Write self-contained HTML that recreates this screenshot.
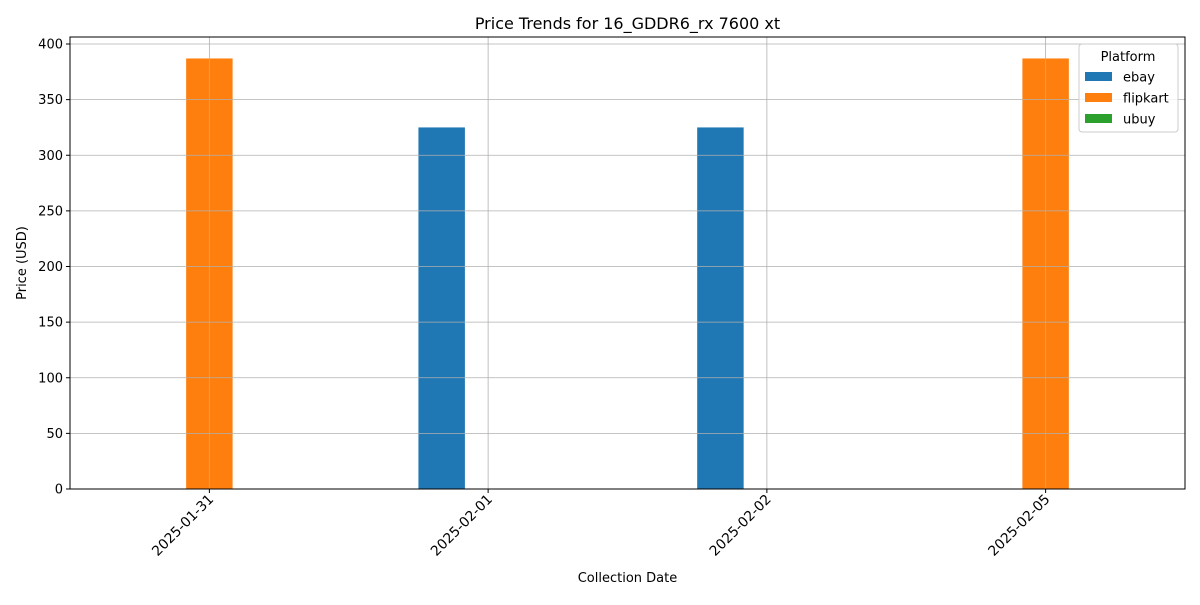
<!DOCTYPE html>
<html><head><meta charset="utf-8"><style>
body{margin:0;background:#fff;font-family:"Liberation Sans","DejaVu Sans",sans-serif;}
svg text{font-family:"DejaVu Sans","Liberation Sans",sans-serif;}
</style></head><body>
<svg id="chart" width="1200" height="600" xmlns="http://www.w3.org/2000/svg"></svg>
<script>
const categories=["2025-01-31","2025-02-01","2025-02-02","2025-02-05"];
const seriesNames=["ebay","flipkart","ubuy"];
const ebayValues=[0,325,325,0];
const flipkartValues=[387,0,0,387];
const ubuyValues=[0,0,0,0];
const yTicks=[0,50,100,150,200,250,300,350,400];
const colors=["#1f77b4","#ff7f0e","#2ca02c"];
const L=70,R=1185,T=37,B=489;
const NS="http://www.w3.org/2000/svg";
const svg=document.getElementById('chart');
function xs(i){return L+(i+0.5)*(R-L)/categories.length;}
function ys(v){return B-v*(B-44)/400;}
function mk(tag,attrs,parent){const e=document.createElementNS(NS,tag);for(const k in attrs)e.setAttribute(k,attrs[k]);(parent||svg).appendChild(e);return e;}
// bars
const all=[ebayValues,flipkartValues,ubuyValues];
const bw=(R-L)/categories.length*0.5/3;
all.forEach((vals,s)=>{vals.forEach((v,i)=>{const x=xs(i)+(s-1)*bw-bw/2;
const r=mk('rect',{x:x,y:ys(v),width:bw,height:B-ys(v),fill:colors[s]});

});});
// grid (on top of bars)
yTicks.forEach(v=>{const l=mk('line',{x1:L,x2:R,y1:ys(v),y2:ys(v),stroke:'#b0b0b0','stroke-width':0.8});

});
categories.forEach((c,i)=>{const l=mk('line',{x1:xs(i),x2:xs(i),y1:T,y2:B,stroke:'#b0b0b0','stroke-width':0.8});

});
// axes box
const box=mk('rect',{x:L,y:T,width:R-L,height:B-T,fill:'none',stroke:'#000','stroke-width':1});


yTicks.forEach(v=>{mk('line',{x1:L-4,x2:L,y1:ys(v),y2:ys(v),stroke:'#000'});
const t=mk('text',{x:L-7,y:ys(v)+4.5,'text-anchor':'end','font-size':13});t.textContent=v;

});
categories.forEach((c,i)=>{mk('line',{x1:xs(i),x2:xs(i),y1:B,y2:B+4,stroke:'#000'});
const tx=xs(i)+5,ty=B+11;
const t=mk('text',{x:tx,y:ty,'text-anchor':'end','font-size':13.8,transform:`rotate(-45 ${tx} ${ty})`});t.textContent=c;

});
const ti=mk('text',{x:(L+R)/2,y:29,'text-anchor':'middle','font-size':16});ti.textContent='Price Trends for 16_GDDR6_rx 7600 xt';


const xl=mk('text',{x:(L+R)/2,y:582,'text-anchor':'middle','font-size':13});xl.textContent='Collection Date';


const yl=mk('text',{x:26,y:263,'text-anchor':'middle','font-size':13,transform:'rotate(-90 26 263)'});yl.textContent='Price (USD)';


// legend
const lg=mk('g',{});


mk('rect',{x:1079,y:44,width:99,height:88,rx:3,fill:'#fff','fill-opacity':0.8,stroke:'#ccc'},lg);
const lt=mk('text',{x:1128,y:61,'text-anchor':'middle','font-size':13},lg);lt.textContent='Platform';
seriesNames.forEach((n,s)=>{const y=77+s*21;
const sw=mk('rect',{x:1085,y:y-5,width:27,height:9,fill:colors[s]},lg);


const t=mk('text',{x:1123,y:y+4.5,'font-size':13},lg);t.textContent=n;

});
</script>
</body></html>
